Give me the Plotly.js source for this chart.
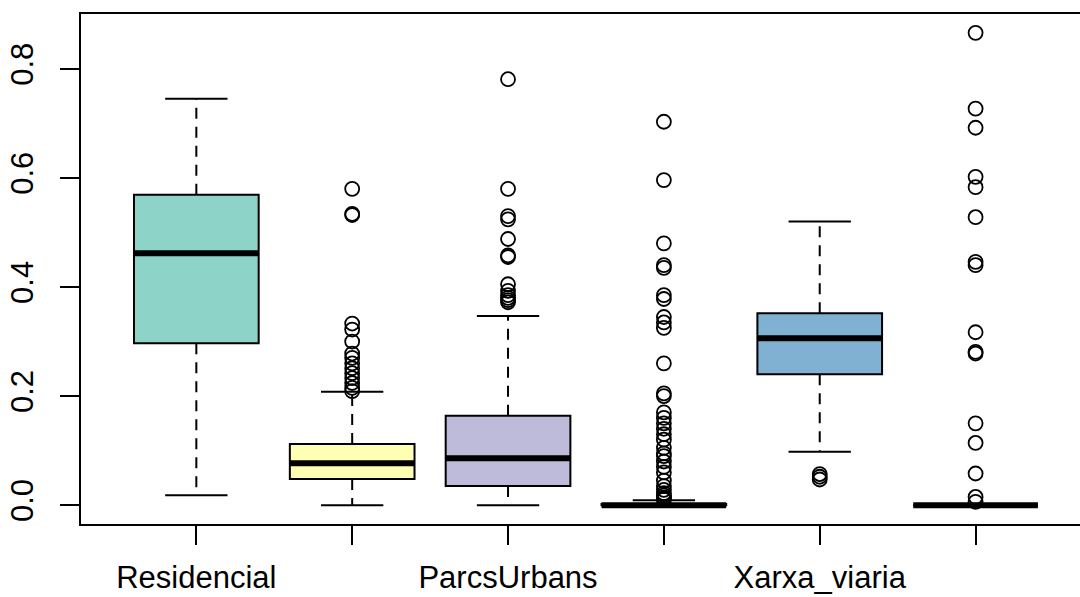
<!DOCTYPE html>
<html>
<head>
<meta charset="utf-8">
<script src="https://cdn.plot.ly/plotly-3.0.1.min.js"></script>
<style>html,body{margin:0;padding:0;background:#fff;}#chart{width:1080px;height:597px;}</style>
</head>
<body>
<div id="chart"></div>
<script>
// Box positions and axis labels (R hides overlapping labels 2, 4, 6)
const positions = [1, 2, 3, 4, 5, 6];
const tickLabels = ["Residencial", "", "ParcsUrbans", "", "Xarxa_viaria", ""];
const boxColors = ["#8DD3C7", "#FFFFB3", "#BEBADA", "#FB8072", "#80B1D3", "#FDB462"];

// Five-number summaries
const lowerWhisker = [0.018, 0.000, 0.000, 0.000, 0.098, 0.000];
const q1Values     = [0.297, 0.048, 0.035, 0.000, 0.240, 0.000];
const medianValues = [0.462, 0.077, 0.086, 0.000, 0.306, 0.000];
const q3Values     = [0.569, 0.112, 0.164, 0.002, 0.352, 0.000];
const upperWhisker = [0.745, 0.208, 0.347, 0.009, 0.520, 0.000];

// Outliers per box
const outliers1 = [];
const outliers2 = [0.580, 0.534, 0.532, 0.333, 0.322, 0.300, 0.278, 0.270, 0.260, 0.251, 0.242, 0.233, 0.224, 0.215, 0.209];
const outliers3 = [0.781, 0.580, 0.530, 0.524, 0.488, 0.458, 0.455, 0.405, 0.393, 0.385, 0.380, 0.376, 0.372];
const outliers4 = [0.703, 0.596, 0.480, 0.440, 0.435, 0.385, 0.378, 0.345, 0.335, 0.325, 0.260, 0.205, 0.200, 0.170, 0.160, 0.150, 0.140, 0.130, 0.120, 0.105, 0.095, 0.090, 0.080, 0.070, 0.060, 0.045, 0.035, 0.028, 0.022, 0.018, 0.014, 0.012, 0.010];
const outliers5 = [0.057, 0.052, 0.047];
const outliers6 = [0.866, 0.727, 0.692, 0.602, 0.583, 0.528, 0.446, 0.440, 0.317, 0.281, 0.278, 0.150, 0.114, 0.058, 0.015, 0.006];

const outlierGroups = [outliers1, outliers2, outliers3, outliers4, outliers5, outliers6];
const boxWidth = 0.8;
const capWidth = 0.4;

const traces = [];

// Whiskers (dashed) built from summaries
const wx = [], wy = [];
positions.forEach((p, i) => {
  wx.push(p, p, null, p, p, null);
  wy.push(q3Values[i], upperWhisker[i], null, q1Values[i], lowerWhisker[i], null);
});
traces.push({type: "scatter", mode: "lines", x: wx, y: wy, line: {color: "#000", width: 2, dash: "11px,8px"}, hoverinfo: "skip", showlegend: false});

// Whisker caps
const cx = [], cy = [];
positions.forEach((p, i) => {
  cx.push(p - capWidth / 2, p + capWidth / 2, null, p - capWidth / 2, p + capWidth / 2, null);
  cy.push(upperWhisker[i], upperWhisker[i], null, lowerWhisker[i], lowerWhisker[i], null);
});
traces.push({type: "scatter", mode: "lines", x: cx, y: cy, line: {color: "#000", width: 2}, hoverinfo: "skip", showlegend: false});

// Boxes
positions.forEach((p, i) => {
  traces.push({
    type: "box", x: [p], q1: [q1Values[i]], median: [medianValues[i]], q3: [q3Values[i]],
    lowerfence: [q1Values[i]], upperfence: [q3Values[i]],
    width: boxWidth, whiskerwidth: 0, fillcolor: boxColors[i],
    line: {color: "#000", width: 2}, boxpoints: false, hoverinfo: "skip", showlegend: false
  });
});

// Thick medians
const mx = [], my = [];
positions.forEach((p, i) => {
  mx.push(p - boxWidth / 2, p + boxWidth / 2, null);
  my.push(medianValues[i], medianValues[i], null);
});
traces.push({type: "scatter", mode: "lines", x: mx, y: my, line: {color: "#000", width: 6}, hoverinfo: "skip", showlegend: false});

// Outliers
const ox = [], oy = [];
outlierGroups.forEach((g, i) => g.forEach(v => { ox.push(positions[i]); oy.push(v); }));
traces.push({type: "scatter", mode: "markers", x: ox, y: oy,
  marker: {symbol: "circle-open", size: 14, color: "#000", line: {width: 1.8, color: "#000"}},
  hoverinfo: "skip", showlegend: false});

const font = {family: "Liberation Sans, Arial, Helvetica, sans-serif", size: 31, color: "#000"};

const layout = {
  width: 1080, height: 597,
  margin: {l: 81, r: 0, t: 14, b: 73, pad: 0},
  paper_bgcolor: "#fff", plot_bgcolor: "#fff",
  boxmode: "overlay",
  showlegend: false,
  font: font,
  xaxis: {
    range: [0.26, 6.67], tickmode: "array", tickvals: positions, ticktext: tickLabels,
    showgrid: false, zeroline: false, showline: true, mirror: true, linecolor: "#000", linewidth: 2,
    ticks: "outside", ticklen: 19, tickwidth: 2, tickcolor: "#000", tickfont: font, ticklabelstandoff: 6
  },
  yaxis: {
    range: [-0.0346, 0.9006], tickmode: "array", tickvals: [0, 0.2, 0.4, 0.6, 0.8],
    ticktext: ["0.0", "0.2", "0.4", "0.6", "0.8"],
    showgrid: false, zeroline: false, showline: true, mirror: false, linecolor: "#000", linewidth: 2,
    ticks: "outside", ticklen: 19, tickwidth: 2, tickcolor: "#000", tickfont: font, tickangle: -90,
    ticklabelstandoff: 15
  }
};

Plotly.newPlot("chart", traces, layout, {staticPlot: true, displayModeBar: false});
</script>
</body>
</html>
